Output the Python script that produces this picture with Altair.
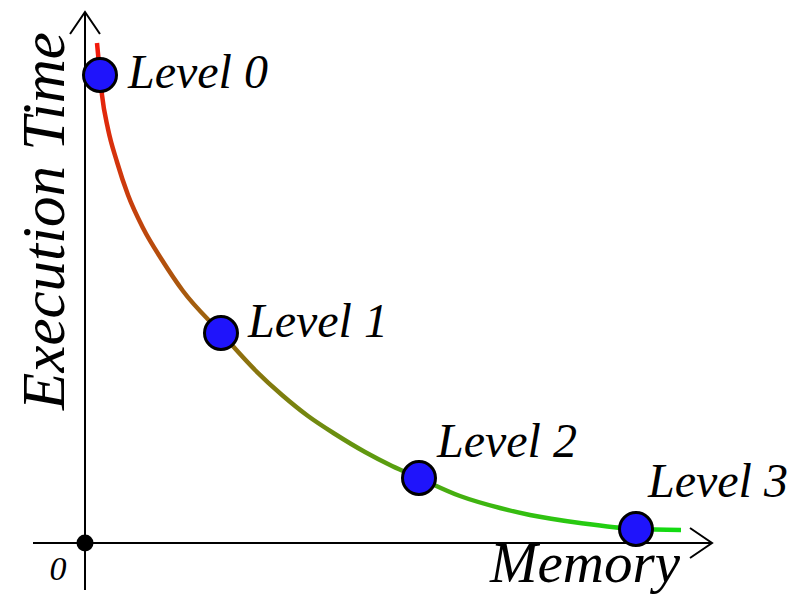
import altair as alt
import pandas as pd

# Trade-off curve: execution time falls as more memory is used
memory = [0.12, 0.15, 0.17, 0.23, 0.32, 0.43, 0.58, 0.77, 0.98, 1.36, 1.70, 1.97,
          2.23, 2.50, 2.80, 3.07, 3.34, 3.75, 4.15, 4.45, 4.95, 5.51, 5.96]
exec_time = [5.00, 4.68, 4.48, 4.14, 3.81, 3.48, 3.15, 2.83, 2.52, 2.10, 1.73, 1.48,
             1.27, 1.09, 0.91, 0.77, 0.65, 0.47, 0.35, 0.28, 0.20, 0.14, 0.13]

# Optimisation levels sitting on the curve
levels = ["Level 0", "Level 1", "Level 2", "Level 3"]
level_memory = [0.15, 1.36, 3.34, 5.51]
level_time = [4.68, 2.10, 0.65, 0.14]

curve_df = pd.DataFrame({"memory": memory, "time": exec_time})
level_df = pd.DataFrame({"level": levels, "memory": level_memory, "time": level_time})
one_row = pd.DataFrame({"k": [0]})

W, H = 788, 599
xs = alt.Scale(domain=[-0.85, 7.03], nice=False, zero=False)
ys = alt.Scale(domain=[-0.56, 5.43], nice=False, zero=False)

FONT = "Liberation Serif"
X_END = 6.27   # arrow tip of the memory axis
Y_END = 5.31   # arrow tip of the time axis


def X(**kw):
    return alt.X(type="quantitative", scale=xs, axis=None, **kw)


def Y(**kw):
    return alt.Y(type="quantitative", scale=ys, axis=None, **kw)


base = alt.Chart(one_row)

y_axis = base.mark_rule(color="black", strokeWidth=2).encode(
    x=X(datum=0), y=Y(datum=-0.47), y2=alt.Y2(datum=Y_END)
)
x_axis = base.mark_rule(color="black", strokeWidth=2).encode(
    y=Y(datum=0), x=X(datum=-0.52), x2=alt.X2(datum=X_END)
)

arrow = "M-1,-0.68L0,0L-1,0.68"
x_arrow = base.mark_point(
    shape=arrow, size=1936, filled=False, stroke="black", strokeWidth=2, opacity=1
).encode(x=X(datum=X_END), y=Y(datum=0))
y_arrow = base.mark_point(
    shape=arrow, size=1936, filled=False, stroke="black", strokeWidth=2, opacity=1, angle=270
).encode(x=X(datum=0), y=Y(datum=Y_END))

origin = base.mark_circle(size=290, color="black", opacity=1).encode(
    x=X(datum=0), y=Y(datum=0)
)

titles = pd.DataFrame({
    "t": ["0", "Memory", "Execution Time"],
})


def title_text(label, size, px, py, angle=0):
    return alt.Chart(titles).transform_filter(alt.datum.t == label).mark_text(
        font=FONT, fontStyle="italic", fontSize=size, align="center",
        baseline="alphabetic", angle=angle, color="black"
    ).encode(x=alt.value(px), y=alt.value(py), text="t:N")


zero_label = title_text("0", 34, 58, 580)
x_title = title_text("Memory", 57, 585, 582)
y_title = title_text("Execution Time", 61, 64, 221, angle=270)

gradient = alt.LinearGradient(
    gradient="linear",
    stops=[alt.GradientStop(color="#f2190b", offset=0),
           alt.GradientStop(color="#12dc12", offset=1)],
    x1=0, y1=0, x2=1, y2=1,
)
curve = alt.Chart(curve_df).mark_line(
    color=gradient, strokeWidth=4.5, interpolate="monotone"
).encode(x=X(field="memory"), y=Y(field="time"))

dots = alt.Chart(level_df).mark_point(
    shape="circle", size=1089, filled=True, fill="#1f14fb", stroke="black",
    strokeWidth=3, opacity=1
).encode(x=X(field="memory"), y=Y(field="time"))

# label placement relative to each level's marker
label_offsets = {"Level 0": (28, 13), "Level 1": (27, 4), "Level 2": (18, -21), "Level 3": (12, -32)}
labels = []
for name, (dx, dy) in label_offsets.items():
    labels.append(
        alt.Chart(level_df).transform_filter(alt.datum.level == name).mark_text(
            font=FONT, fontStyle="italic", fontSize=48, align="left",
            baseline="alphabetic", dx=dx, dy=dy, color="black"
        ).encode(x=X(field="memory"), y=Y(field="time"), text="level:N")
    )

chart = alt.layer(
    y_axis, x_axis, x_arrow, y_arrow, curve, origin, zero_label, x_title, y_title, dots, *labels
).properties(
    width=W, height=H, padding=0, autosize=alt.AutoSizeParams(type="none")
).configure(font=FONT).configure_text(font=FONT).configure_view(stroke=None)

chart.save("out.html", embed_options={"renderer": "svg", "actions": False})
